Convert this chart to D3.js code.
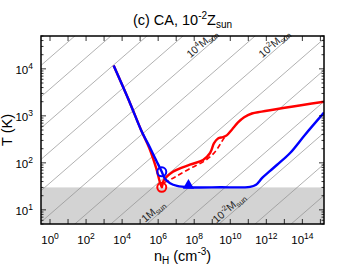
<!DOCTYPE html>
<html>
<head>
<meta charset="utf-8">
<script src="https://cdn.jsdelivr.net/npm/d3@7"></script>
<style>
  body { margin: 0; background: #fff; }
  text { font-family: "Liberation Sans", Arial, Helvetica, sans-serif; }
</style>
</head>
<body>
<div id="chart-container"></div>
<script>
// values, log10 of n_H and T
const redLogN = [3.53, 4.44, 5.05, 5.5, 5.89, 6.2, 6.3, 6.82, 7.76, 8.49, 8.88, 9.1, 9.32, 9.6, 9.82, 10.1, 10.43, 10.77, 11.2, 11.74, 15.2];
const redLogT = [4.07, 3.27, 2.70, 2.32, 1.89, 1.48, 1.62, 1.81, 1.96, 2.06, 2.21, 2.42, 2.52, 2.55, 2.59, 2.71, 2.86, 2.97, 3.05, 3.09, 3.30];
const dashLogN = [6.33, 6.94, 7.77, 8.65, 9.15, 9.54, 9.76];
const dashLogT = [1.58, 1.70, 1.88, 2.06, 2.23, 2.46, 2.59];
const blueLogN = [3.53, 4.44, 5.05, 5.55, 5.88, 6.2, 6.38, 6.66, 7.05, 7.71, 9.43, 11.1, 11.43, 11.77, 12.21, 12.6, 13.32, 14.15, 15.2];
const blueLogT = [4.07, 3.27, 2.70, 2.32, 2.06, 1.81, 1.66, 1.567, 1.51, 1.48, 1.48, 1.49, 1.535, 1.68, 1.83, 1.96, 2.21, 2.60, 3.07];
const redCircle = [6.2, 1.48];
const blueCircle = [6.2, 1.81];
const blueTriangle = [7.68, 1.52];
const tFloor = 30;
const jeansLogM = [-5, -4, -3, -2, -1, 0, 1, 2, 3, 4, 5, 6, 7, 8, 9];
const jeansConst = 1.64;
const jeansLabels = [
  { logM: 4, text: "4", logT: 4.45 },
  { logM: 2, text: "2", logT: 4.45 },
  { logM: 0, text: "", logT: 0.88 },
  { logM: -2, text: "-2", logT: 0.95 }
];
const xTickExp = [0, 2, 4, 6, 8, 10, 12, 14];
const yTickExp = [1, 2, 3, 4];

const margin = { top: 36, right: 21, bottom: 48, left: 41 };
const width = 345 - margin.left - margin.right;
const height = 272 - margin.top - margin.bottom;

const x = d3.scaleLog().domain([Math.pow(10, -0.5), Math.pow(10, 15.2)]).range([0, width]);
const y = d3.scaleLog().domain([5, 5e4]).range([height, 0]);

const root = d3.select("#chart-container")
  .append("svg")
  .attr("width", 345)
  .attr("height", 272);

const svg = root.append("g")
  .attr("transform", `translate(${margin.left},${margin.top})`);

svg.append("defs").append("clipPath").attr("id", "clip")
  .append("rect").attr("width", width).attr("height", height);

const plot = svg.append("g").attr("clip-path", "url(#clip)");

// gray band below the temperature floor
plot.append("rect")
  .attr("x", 0)
  .attr("y", y(tFloor))
  .attr("width", width)
  .attr("height", height - y(tFloor))
  .attr("fill", "#d3d3d3");

// constant Jeans mass lines
const jeansT = (logM, logN) => (logM - jeansConst + 0.5 * logN) / 1.5;
jeansLogM.forEach(m => {
  plot.append("line")
    .attr("x1", x(Math.pow(10, -0.5)))
    .attr("y1", y(Math.pow(10, jeansT(m, -0.5))))
    .attr("x2", x(Math.pow(10, 15.2)))
    .attr("y2", y(Math.pow(10, jeansT(m, 15.2))))
    .attr("stroke", "#8f8f8f")
    .attr("stroke-width", 0.7);
});

const ang = Math.atan2(y(10) - y(Math.pow(10, 1 + 1 / 3)), x(10) - x(1)) * 180 / Math.PI;
jeansLabels.forEach(d => {
  const logN = 2 * (1.5 * d.logT + jeansConst - d.logM);
  const px = x(Math.pow(10, logN));
  const py = y(Math.pow(10, d.logT));
  const t = svg.append("text")
    .attr("transform", `translate(${px},${py}) rotate(${-ang}) translate(0,-2)`)
    .attr("text-anchor", "middle")
    .attr("font-size", 10.5)
    .attr("fill", "#222");
  if (d.text === "") {
    t.append("tspan").text("1M");
  } else {
    t.append("tspan").text("10");
    t.append("tspan").attr("dy", -4).attr("font-size", 7.5).text(d.text);
    t.append("tspan").attr("dy", 4).text("M");
  }
  t.append("tspan").attr("dy", 2.5).attr("font-size", 7.5).text("sun");
});

const line = d3.line()
  .x(d => x(Math.pow(10, d[0])))
  .y(d => y(Math.pow(10, d[1])))
  .curve(d3.curveCatmullRom);

const redPts = redLogN.map((n, i) => [n, redLogT[i]]);
const dashPts = dashLogN.map((n, i) => [n, dashLogT[i]]);
const bluePts = blueLogN.map((n, i) => [n, blueLogT[i]]);

plot.append("path")
  .datum(redPts)
  .attr("fill", "none")
  .attr("stroke", "#ff0000")
  .attr("stroke-width", 2.4)
  .attr("stroke-linejoin", "round")
  .attr("d", line);

plot.append("path")
  .datum(dashPts)
  .attr("fill", "none")
  .attr("stroke", "#ff0000")
  .attr("stroke-width", 1.6)
  .attr("stroke-dasharray", "5,3")
  .attr("d", line);

plot.append("path")
  .datum(bluePts)
  .attr("fill", "none")
  .attr("stroke", "#0000ff")
  .attr("stroke-width", 2.4)
  .attr("stroke-linejoin", "round")
  .attr("d", line);

// markers
svg.append("circle")
  .attr("cx", x(Math.pow(10, redCircle[0])))
  .attr("cy", y(Math.pow(10, redCircle[1])))
  .attr("r", 4.5)
  .attr("fill", "none")
  .attr("stroke", "#ff0000")
  .attr("stroke-width", 2);

svg.append("circle")
  .attr("cx", x(Math.pow(10, blueCircle[0])))
  .attr("cy", y(Math.pow(10, blueCircle[1])))
  .attr("r", 4.5)
  .attr("fill", "none")
  .attr("stroke", "#0000ff")
  .attr("stroke-width", 2);

svg.append("path")
  .attr("transform", `translate(${x(Math.pow(10, blueTriangle[0]))},${y(Math.pow(10, blueTriangle[1]))})`)
  .attr("d", d3.symbol().type(d3.symbolTriangle).size(55))
  .attr("fill", "#0000ff");

// frame and ticks on all four sides, pointing inwards
const xMajor = d3.range(0, 16).map(e => Math.pow(10, e));
const yMajor = d3.range(1, 5).map(e => Math.pow(10, e));
const yMinor = [];
d3.range(0, 5).forEach(e => {
  for (let k = 2; k <= 9; k++) {
    const v = k * Math.pow(10, e);
    if (v >= 5 && v <= 5e4) yMinor.push(v);
  }
});

const ticks = svg.append("g").attr("stroke", "#000").attr("stroke-width", 0.8);
xMajor.forEach(v => {
  ticks.append("line").attr("x1", x(v)).attr("x2", x(v)).attr("y1", height).attr("y2", height - 5);
  ticks.append("line").attr("x1", x(v)).attr("x2", x(v)).attr("y1", 0).attr("y2", 5);
});
yMajor.forEach(v => {
  ticks.append("line").attr("x1", 0).attr("x2", 5).attr("y1", y(v)).attr("y2", y(v));
  ticks.append("line").attr("x1", width).attr("x2", width - 5).attr("y1", y(v)).attr("y2", y(v));
});
yMinor.forEach(v => {
  ticks.append("line").attr("x1", 0).attr("x2", 2.5).attr("y1", y(v)).attr("y2", y(v));
  ticks.append("line").attr("x1", width).attr("x2", width - 2.5).attr("y1", y(v)).attr("y2", y(v));
});

svg.append("rect")
  .attr("width", width)
  .attr("height", height)
  .attr("fill", "none")
  .attr("stroke", "#000")
  .attr("stroke-width", 1.5);

// tick labels
xTickExp.forEach(e => {
  const t = svg.append("text")
    .attr("x", x(Math.pow(10, e)))
    .attr("y", height + 20)
    .attr("text-anchor", "middle")
    .attr("font-size", 11.5);
  t.append("tspan").text("10");
  t.append("tspan").attr("dy", -5).attr("font-size", 8.5).text(e);
});

yTickExp.forEach(e => {
  const t = svg.append("text")
    .attr("x", -8)
    .attr("y", y(Math.pow(10, e)) + 5)
    .attr("text-anchor", "end")
    .attr("font-size", 11.5);
  t.append("tspan").text("10");
  t.append("tspan").attr("dy", -5).attr("font-size", 8.5).text(e);
});

// axis titles
const xl = svg.append("text")
  .attr("x", width / 2)
  .attr("y", height + 37)
  .attr("text-anchor", "middle")
  .attr("font-size", 14.5);
xl.append("tspan").text("n");
xl.append("tspan").attr("dy", 3).attr("font-size", 10).text("H");
xl.append("tspan").attr("dy", -3).text(" (cm");
xl.append("tspan").attr("dy", -6).attr("font-size", 10).text("-3");
xl.append("tspan").attr("dy", 6).text(")");

svg.append("text")
  .attr("transform", `translate(${-29},${height / 2}) rotate(-90)`)
  .attr("text-anchor", "middle")
  .attr("font-size", 14.5)
  .text("T (K)");

const title = svg.append("text")
  .attr("x", width / 2)
  .attr("y", -11)
  .attr("text-anchor", "middle")
  .attr("font-size", 14.5);
title.append("tspan").text("(c) CA, 10");
title.append("tspan").attr("dy", -6).attr("font-size", 10).text("-2");
title.append("tspan").attr("dy", 6).text("Z");
title.append("tspan").attr("dy", 3).attr("font-size", 10).text("sun");
</script>
</body>
</html>
